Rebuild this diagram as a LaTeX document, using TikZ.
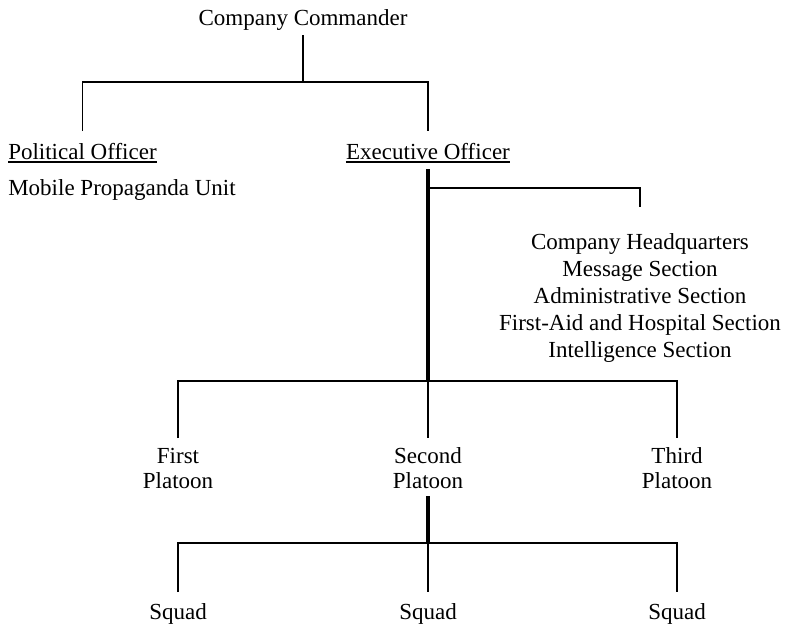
\documentclass[tikz,border=0pt]{standalone}
\usepackage{fontspec}
\setmainfont{Liberation Serif}
\usetikzlibrary{calc}
\tikzset{
  lbl/.style={inner sep=0pt, anchor=base, font=\fontsize{17.25}{20.25}\selectfont},
  ml/.style={lbl, align=center},
  plt/.style={ml, font=\fontsize{17.25}{18.75}\selectfont},
  conn/.style={line width=1.4pt},
  trunk/.style={line width=2.4pt},
  uline/.style={line width=1.2pt}
}
\begin{document}
\begin{tikzpicture}[x=0.75pt,y=-0.75pt]
\useasboundingbox (0,0) rectangle (787,628);
% labels (multi-line nodes: base = baseline of the last line)
\node[lbl] (cc) at (303,25) {Company Commander};
\node[lbl, anchor=base west] (po) at (8,159) {Political Officer};
\node[lbl] (eo) at (428,159) {Executive Officer};
\node[lbl, anchor=base west] (mp) at (8,195) {Mobile Propaganda Unit};
\node[ml] (hq) at (640,357) {Company Headquarters\\Message Section\\Administrative Section\\First-Aid and Hospital Section\\Intelligence Section};
\node[plt] (p1) at (178,488) {First\\Platoon};
\node[plt] (p2) at (428,488) {Second\\Platoon};
\node[plt] (p3) at (677,488) {Third\\Platoon};
\node[lbl] (s1) at (178,619) {Squad};
\node[lbl] (s2) at (428,619) {Squad};
\node[lbl] (s3) at (677,619) {Squad};
% junctions
\coordinate (t1) at (303,82);
\coordinate (t2) at (428,188);
\coordinate (t3) at (428,381);
\coordinate (t4) at (428,543);
% underlines
\draw[uline] ($(po.base west)+(0,3)$) -- ($(po.base east)+(0,3)$);
\draw[uline] ($(eo.base west)+(0,3)$) -- ($(eo.base east)+(0,3)$);
% connectors
\draw[conn] ($(cc.base)+(0,10)$) -- (t1);
\draw[conn] ($(po.base)+(0,-28)$) |- (t1) -| ($(eo.base)+(0,-28)$);
\draw[trunk] ($(eo.base)+(0,10)$) -- (t3);
\draw[conn] (t2) -| ($(hq.base)+(0,-150)$);
\draw[conn] ($(p1.base)+(0,-50)$) |- (t3) -| ($(p3.base)+(0,-50)$);
\draw[conn] (t3) -- ($(p2.base)+(0,-50)$);
\draw[trunk] ($(p2.base)+(0,8)$) -- (t4);
\draw[conn] ($(s1.base)+(0,-27)$) |- (t4) -| ($(s3.base)+(0,-27)$);
\draw[conn] (t4) -- ($(s2.base)+(0,-27)$);
\end{tikzpicture}
\end{document}
